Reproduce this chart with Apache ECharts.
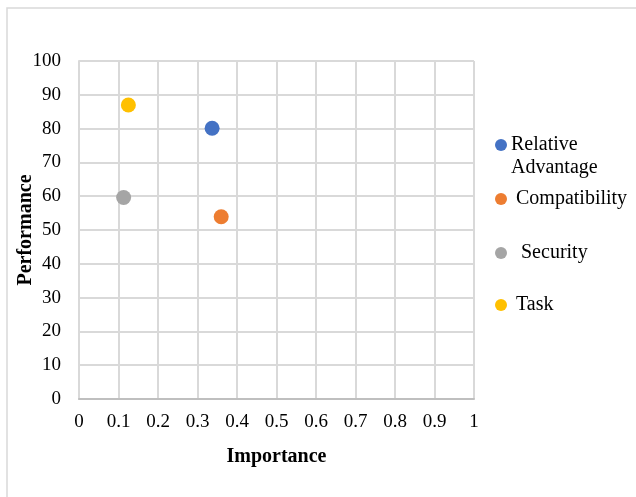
<!DOCTYPE html>
<html>
<head>
<meta charset="utf-8">
<script src="https://cdn.jsdelivr.net/npm/echarts@6/dist/echarts.min.js"></script>
<style>
  html, body { margin: 0; padding: 0; background: #fff; }
  #chart { width: 636px; height: 497px; }
</style>
</head>
<body>
<div id="chart"></div>
<script>
// Importance–performance values per factor
const seriesNames = ['Relative Advantage', 'Compatibility', 'Security', 'Task'];
const legendLabels = ['Relative\nAdvantage', ' Compatibility', '  Security', ' Task'];
const importance = [0.337, 0.360, 0.113, 0.125];
const performance = [80.1, 53.9, 59.6, 87.0];
const colors = ['#4472C4', '#ED7D31', '#A5A5A5', '#FFC000'];
const xTicks = [0, 0.1, 0.2, 0.3, 0.4, 0.5, 0.6, 0.7, 0.8, 0.9, 1];
const yTicks = [0, 10, 20, 30, 40, 50, 60, 70, 80, 90, 100];

const font = 'Liberation Serif, Times New Roman, serif';
const chart = echarts.init(document.getElementById('chart'), null, { renderer: 'canvas' });

// Legend rows: marker centre y
const legendRows = [145, 199, 253, 305];
const legendGraphics = [];
seriesNames.forEach((n, i) => {
  legendGraphics.push({
    type: 'circle',
    shape: { cx: 501, cy: legendRows[i], r: 6 },
    style: { fill: colors[i] }
  });
  legendGraphics.push({
    type: 'text',
    x: 511,
    y: legendRows[i] - 11.5,
    style: {
      text: legendLabels[i],
      font: '20px ' + font,
      fill: '#000',
      lineHeight: 23
    }
  });
});

chart.setOption({
  animation: false,
  backgroundColor: '#fff',
  grid: { left: 79, top: 61, right: 162, bottom: 98, containLabel: false, outerBoundsMode: 'none' },
  xAxis: {
    type: 'value', min: 0, max: 1, interval: 0.1,
    name: 'Importance', nameLocation: 'middle', nameGap: 48, nameMoveOverlap: false,
    nameTextStyle: { fontFamily: font, fontSize: 20, fontWeight: 'bold', color: '#000' },
    axisLine: { show: true, lineStyle: { color: '#BFBFBF', width: 2 } },
    axisTick: { show: false },
    axisLabel: { fontFamily: font, fontSize: 19, color: '#000', margin: 14,
      formatter: v => String(+v.toFixed(1)) },
    splitLine: { show: true, lineStyle: { color: '#D9D9D9', width: 2 } }
  },
  yAxis: {
    type: 'value', min: 0, max: 100, interval: 10,
    name: 'Performance', nameLocation: 'middle', nameGap: 43, nameMoveOverlap: false,
    nameTextStyle: { fontFamily: font, fontSize: 20, fontWeight: 'bold', color: '#000' },
    axisLine: { show: true, lineStyle: { color: '#D9D9D9', width: 2 } },
    axisTick: { show: false },
    axisLabel: { fontFamily: font, fontSize: 19, color: '#000', margin: 18 },
    splitLine: { show: true, lineStyle: { color: '#D9D9D9', width: 2 } }
  },
  series: seriesNames.map((n, i) => ({
    name: n,
    type: 'scatter',
    symbol: 'circle',
    symbolSize: 15,
    itemStyle: { color: colors[i], opacity: 1 },
    data: [[importance[i], performance[i]]]
  })),
  graphic: [
    {
      type: 'rect',
      shape: { x: 7, y: 8, width: 640, height: 500 },
      style: { fill: 'none', stroke: '#D9D9D9', lineWidth: 1.5 },
      z: -1
    },
    ...legendGraphics
  ]
});
</script>
</body>
</html>
